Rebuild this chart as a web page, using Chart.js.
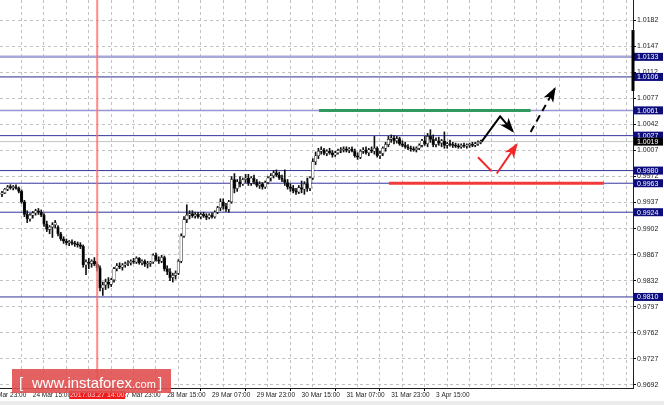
<!DOCTYPE html>
<html>
<head>
<meta charset="utf-8">
<script src="https://cdn.jsdelivr.net/npm/chart.js@4.4.1/dist/chart.umd.min.js"></script>
<style>
  html, body { margin: 0; padding: 0; background: #fff; overflow: hidden; }
  #wrap { width: 664px; height: 405px; }
</style>
</head>
<body>
<div id="wrap"><canvas id="chart" width="664" height="405"></canvas></div>
<script>
// hourly candles, index 0 = 24 Mar 04:00 (weekend skipped)
const opens = [
  0.9948,0.9950,0.9955,0.9958,0.9957,0.9958,0.9956,0.9952,0.9938,0.9921,
  0.9915,0.9920,0.9923,0.9926,0.9924,0.9920,0.9908,0.9901,0.9904,0.9907,
  0.9904,0.9895,0.9888,0.9885,0.9883,0.9884,0.9882,0.9881,0.9880,0.9878,
  0.9853,0.9857,0.9855,0.9858,0.9854,0.9849,0.9822,0.9826,0.9830,0.9827,
  0.9833,0.9848,0.9852,0.9850,0.9853,0.9855,0.9856,0.9858,0.9857,0.9862,
  0.9856,0.9858,0.9854,0.9855,0.9857,0.9866,0.9860,0.9858,0.9863,0.9848,
  0.9844,0.9836,0.9839,0.9842,0.9858,0.9892,0.9914,0.9920,0.9922,0.9919,
  0.9921,0.9918,0.9921,0.9919,0.9917,0.9920,0.9918,0.9924,0.9930,0.9938,
  0.9932,0.9928,0.9938,0.9968,0.9956,0.9965,0.9962,0.9968,0.9970,0.9963,
  0.9970,0.9965,0.9960,0.9962,0.9958,0.9964,0.9970,0.9973,0.9977,0.9974,
  0.9970,0.9968,0.9964,0.9958,0.9956,0.9953,0.9951,0.9957,0.9955,0.9962,
  0.9956,0.9970,0.9992,1.0000,1.0006,1.0008,1.0003,1.0006,1.0004,1.0001,
  1.0004,1.0007,1.0008,1.0009,1.0007,1.0009,1.0006,1.0000,0.9998,1.0006,
  1.0008,1.0004,1.0008,1.0006,1.0010,1.0000,1.0003,1.0010,1.0015,1.0022,
  1.0024,1.0020,1.0023,1.0016,1.0014,1.0012,1.0010,1.0009,1.0008,1.0010,
  1.0014,1.0020,1.0016,1.0026,1.0022,1.0015,1.0020,1.0017,1.0020,1.0014,
  1.0016,1.0015,1.0014,1.0013,1.0012,1.0014,1.0013,1.0014,1.0015,1.0014,1.0016,1.0018
];
const highs = [
  0.9952,0.9956,0.9960,0.9961,0.9960,0.9961,0.9958,0.9954,0.9940,0.9926,
  0.9922,0.9925,0.9928,0.9929,0.9927,0.9922,0.9912,0.9906,0.9910,0.9913,
  0.9906,0.9897,0.9891,0.9888,0.9886,0.9887,0.9885,0.9884,0.9883,0.9880,
  0.9860,0.9862,0.9860,0.9863,0.9857,0.9852,0.9830,0.9834,0.9836,0.9835,
  0.9850,0.9855,0.9856,0.9855,0.9857,0.9859,0.9860,0.9862,0.9864,0.9863,
  0.9860,0.9860,0.9858,0.9858,0.9868,0.9869,0.9864,0.9866,0.9865,0.9852,
  0.9848,0.9842,0.9845,0.9860,0.9895,0.9918,0.9934,0.9926,0.9926,0.9924,
  0.9924,0.9923,0.9924,0.9922,0.9922,0.9923,0.9926,0.9932,0.9942,0.9942,
  0.9936,0.9940,0.9972,0.9976,0.9968,0.9972,0.9970,0.9975,0.9975,0.9972,
  0.9974,0.9968,0.9965,0.9964,0.9966,0.9972,0.9976,0.9980,0.9981,0.9978,
  0.9974,0.9981,0.9968,0.9962,0.9960,0.9956,0.9960,0.9966,0.9965,0.9970,
  0.9972,0.9996,1.0005,1.0010,1.0012,1.0010,1.0008,1.0010,1.0007,1.0006,
  1.0009,1.0011,1.0012,1.0012,1.0011,1.0012,1.0009,1.0004,1.0008,1.0011,
  1.0012,1.0010,1.0012,1.0026,1.0012,1.0006,1.0012,1.0018,1.0026,1.0028,
  1.0027,1.0026,1.0025,1.0020,1.0018,1.0015,1.0013,1.0012,1.0012,1.0016,
  1.0022,1.0026,1.0030,1.0035,1.0028,1.0024,1.0025,1.0022,1.0032,1.0018,
  1.0021,1.0018,1.0017,1.0016,1.0016,1.0017,1.0016,1.0017,1.0018,1.0018,1.0020,1.0021
];
const lows = [
  0.9945,0.9949,0.9953,0.9955,0.9954,0.9955,0.9950,0.9936,0.9918,0.9910,
  0.9912,0.9916,0.9920,0.9921,0.9918,0.9905,0.9898,0.9895,0.9890,0.9903,
  0.9892,0.9886,0.9882,0.9880,0.9879,0.9880,0.9878,0.9877,0.9875,0.9850,
  0.9840,0.9848,0.9850,0.9852,0.9845,0.9818,0.9812,0.9820,0.9822,0.9824,
  0.9830,0.9845,0.9848,0.9846,0.9850,0.9852,0.9853,0.9855,0.9855,0.9854,
  0.9853,0.9851,0.9849,0.9851,0.9855,0.9858,0.9855,0.9856,0.9845,0.9840,
  0.9832,0.9830,0.9834,0.9840,0.9856,0.9890,0.9910,0.9915,0.9917,0.9916,
  0.9916,0.9915,0.9917,0.9914,0.9915,0.9916,0.9916,0.9922,0.9926,0.9928,
  0.9925,0.9924,0.9936,0.9950,0.9952,0.9958,0.9960,0.9964,0.9960,0.9960,
  0.9962,0.9958,0.9956,0.9955,0.9956,0.9962,0.9966,0.9970,0.9972,0.9968,
  0.9965,0.9960,0.9955,0.9952,0.9950,0.9948,0.9949,0.9950,0.9948,0.9952,
  0.9953,0.9968,0.9988,0.9996,1.0002,1.0001,1.0000,1.0002,0.9998,0.9999,
  1.0002,1.0004,1.0005,1.0005,1.0004,1.0005,0.9998,0.9995,0.9996,1.0003,
  1.0002,1.0000,1.0004,1.0002,0.9998,0.9996,1.0000,1.0006,1.0012,1.0018,
  1.0016,1.0017,1.0014,1.0012,1.0010,1.0008,1.0006,1.0006,1.0005,1.0008,
  1.0012,1.0014,1.0012,1.0018,1.0012,1.0012,1.0014,1.0012,1.0010,1.0010,
  1.0013,1.0011,1.0011,1.0010,1.0010,1.0011,1.0010,1.0011,1.0012,1.0012,1.0014,1.0016
];
const closes = [
  0.9950,0.9955,0.9958,0.9957,0.9958,0.9956,0.9952,0.9938,0.9921,0.9915,
  0.9920,0.9923,0.9926,0.9924,0.9920,0.9908,0.9901,0.9904,0.9907,0.9910,
  0.9895,0.9888,0.9885,0.9883,0.9884,0.9882,0.9881,0.9880,0.9878,0.9853,
  0.9857,0.9855,0.9858,0.9854,0.9849,0.9822,0.9826,0.9830,0.9827,0.9833,
  0.9848,0.9852,0.9850,0.9853,0.9855,0.9856,0.9858,0.9857,0.9862,0.9856,
  0.9858,0.9854,0.9855,0.9857,0.9866,0.9860,0.9858,0.9863,0.9848,0.9844,
  0.9836,0.9839,0.9842,0.9858,0.9892,0.9914,0.9920,0.9922,0.9919,0.9921,
  0.9918,0.9921,0.9919,0.9917,0.9920,0.9918,0.9924,0.9930,0.9938,0.9932,
  0.9928,0.9938,0.9968,0.9956,0.9965,0.9962,0.9968,0.9970,0.9963,0.9970,
  0.9965,0.9960,0.9962,0.9958,0.9964,0.9970,0.9973,0.9977,0.9974,0.9970,
  0.9968,0.9964,0.9958,0.9956,0.9953,0.9951,0.9957,0.9955,0.9962,0.9956,
  0.9970,0.9992,1.0000,1.0006,1.0008,1.0003,1.0006,1.0004,1.0001,1.0004,
  1.0007,1.0008,1.0009,1.0007,1.0009,1.0006,1.0000,0.9998,1.0006,1.0008,
  1.0004,1.0008,1.0006,1.0010,1.0000,1.0003,1.0010,1.0015,1.0022,1.0024,
  1.0020,1.0023,1.0016,1.0014,1.0012,1.0010,1.0009,1.0008,1.0010,1.0014,
  1.0020,1.0016,1.0026,1.0022,1.0015,1.0020,1.0017,1.0020,1.0014,1.0016,
  1.0015,1.0014,1.0013,1.0012,1.0014,1.0013,1.0014,1.0015,1.0014,1.0016,1.0018,1.0019
];

// time axis: candle index of each labelled hour
const timeTicks = [-5, 11, 27, 43, 59, 75, 91, 107, 123, 139, 155];
const timeLabels = ['23 Mar 23:00', '24 Mar 15:00', '27 Mar 07:00', '27 Mar 23:00', '28 Mar 15:00',
  '29 Mar 07:00', '29 Mar 23:00', '30 Mar 15:00', '31 Mar 07:00', '31 Mar 23:00', '3 Apr 15:00'];
const priceTicks = [1.0182, 1.0147, 1.0112, 1.0077, 1.0042, 1.0007, 0.9972, 0.9937,
  0.9902, 0.9867, 0.9832, 0.9797, 0.9762, 0.9727, 0.9692];

// horizontal levels
const levels = [1.0133, 1.0106, 1.0061, 1.0027, 0.9980, 0.9963, 0.9924, 0.9810];
const bidPrice = 1.0019;
const cursorIndex = 34;
const cursorLabel = '2017.03.27 14:00';

// drawn objects (index, price)
const greenSegment = [[113.2, 1.0061], [188.8, 1.0061]];
const redSegment = [[138.2, 0.9963], [215, 0.9963]];
const blackArrow = [[171.3, 1.0019], [177.9, 1.0053], [182.4, 1.0033]];
const blackDashArrow = [[188.8, 1.0032], [197.4, 1.0090]];
const redDown = [[170, 0.9998], [174.9, 0.9979]];
const redUpArrow = [[176.7, 0.9976], [183.8, 1.0015]];

const xMin = -0.714, xMax = 225.36;
const levelStyle = {
  1.0133: ['#a8a8d6', 2.5], 1.0106: ['#2c2c8e', 1], 1.0061: ['#9696d2', 1.5], 1.0027: ['#34349c', 1],
  0.998: ['#34349c', 1], 0.9963: ['#34349c', 1], 0.9924: ['#34349c', 1], 0.981: ['#34349c', 1]
};

const pts = arr => arr.map(p => ({ x: p[0], y: p[1] }));
const font = { family: 'Liberation Sans, Arial, sans-serif', size: 7 };

const datasets = [];
levels.forEach(v => {
  const st = levelStyle[v];
  datasets.push({ type: 'line', data: [{ x: xMin, y: v }, { x: xMax, y: v }], borderColor: st[0], borderWidth: st[1], pointRadius: 0, order: 10 });
});
datasets.push({ type: 'line', data: [{ x: xMin, y: bidPrice }, { x: xMax, y: bidPrice }], borderColor: '#c4c4c4', borderWidth: 1, pointRadius: 0, order: 9 });

datasets.push({
  type: 'bar', order: 6, grouped: false, barThickness: 1,
  data: opens.map((o, i) => ({ x: i, y: [lows[i], highs[i]] })),
  backgroundColor: '#111'
});
datasets.push({
  type: 'bar', order: 5, grouped: false, barThickness: 2.6, minBarLength: 1,
  data: opens.map((o, i) => ({ x: i, y: [o, closes[i]] })),
  backgroundColor: opens.map((o, i) => closes[i] >= o ? '#ffffff' : '#000000'),
  borderColor: '#222', borderWidth: 0.6, borderSkipped: false
});

datasets.push({ type: 'line', data: pts(greenSegment), borderColor: '#2e9a5e', borderWidth: 3, pointRadius: 0, order: 3 });
datasets.push({ type: 'line', data: pts(redSegment), borderColor: '#f23a3a', borderWidth: 3, pointRadius: 0, order: 3 });
datasets.push({ type: 'line', data: pts(blackArrow), borderColor: '#000', borderWidth: 2, pointRadius: 0, order: 1, arrow: true });
datasets.push({ type: 'line', data: pts(blackDashArrow), borderColor: '#000', borderWidth: 2, borderDash: [7, 5], pointRadius: 0, order: 1, arrow: true });
datasets.push({ type: 'line', data: pts(redDown), borderColor: '#f22828', borderWidth: 2, pointRadius: 0, order: 1 });
datasets.push({ type: 'line', data: pts(redUpArrow), borderColor: '#f22828', borderWidth: 2, pointRadius: 0, order: 1, arrow: true });

const backdrop = {
  id: 'backdrop',
  beforeDraw(chart) {
    const ctx = chart.ctx;
    ctx.save();
    ctx.fillStyle = '#fff';
    ctx.fillRect(0, 0, chart.width, chart.height);
    ctx.fillStyle = '#ececec';
    ctx.fillRect(0, chart.height - 4, chart.width, 4);
    ctx.restore();
  }
};

const arrowHeads = {
  id: 'arrowHeads',
  afterDatasetsDraw(chart) {
    const ctx = chart.ctx;
    chart.data.datasets.forEach((ds, i) => {
      if (!ds.arrow) return;
      const el = chart.getDatasetMeta(i).data;
      const a = el[el.length - 2], b = el[el.length - 1];
      const ang = Math.atan2(b.y - a.y, b.x - a.x);
      const len = 13, half = 5.5;
      ctx.save();
      ctx.fillStyle = ds.borderColor;
      ctx.translate(b.x, b.y);
      ctx.rotate(ang);
      ctx.beginPath();
      ctx.moveTo(2, 0);
      ctx.lineTo(-len, -half);
      ctx.lineTo(-len + 4, 0);
      ctx.lineTo(-len, half);
      ctx.closePath();
      ctx.fill();
      ctx.restore();
    });
  }
};

const overlay = {
  id: 'overlay',
  afterDraw(chart) {
    const ctx = chart.ctx;
    const xs = chart.scales.x, ys = chart.scales.y;
    const area = chart.chartArea;

    // crosshair
    const cx = xs.getPixelForValue(cursorIndex);
    ctx.save();
    ctx.strokeStyle = 'rgba(255,110,110,0.8)';
    ctx.lineWidth = 2;
    ctx.beginPath();
    ctx.moveTo(cx, area.top);
    ctx.lineTo(cx, area.bottom);
    ctx.stroke();
    ctx.fillStyle = '#f01c1c';
    ctx.fillRect(cx - 28, area.bottom + 3, 56, 8);
    ctx.fillStyle = '#ffd8d8';
    ctx.font = '7px Liberation Sans, Arial, sans-serif';
    ctx.textAlign = 'center';
    ctx.textBaseline = 'middle';
    ctx.fillText(cursorLabel, cx, area.bottom + 7.5);

    // price boxes on the axis
    const box = (v, col) => {
      const py = ys.getPixelForValue(v);
      ctx.fillStyle = col;
      ctx.fillRect(area.right + 1, py - 4, 29, 8);
      ctx.fillStyle = '#fff';
      ctx.textAlign = 'left';
      ctx.fillText(v.toFixed(4), area.right + 4, py + 0.5);
    };
    levels.forEach(v => box(v, '#0c0c7c'));
    box(bidPrice, '#000');

    // shift marker
    ctx.fillStyle = '#000';
    ctx.fillRect(area.right - 1.5, 30, 3, 61);

    // watermark
    ctx.fillStyle = 'rgba(224,80,80,0.9)';
    ctx.fillRect(12, 369, 159, 24);
    ctx.fillStyle = '#fff';
    ctx.textBaseline = 'alphabetic';
    ctx.textAlign = 'left';
    ctx.font = '15px Liberation Sans, Arial, sans-serif';
    ctx.fillText('[', 19, 388);
    const w = ctx.measureText('www.instaforex').width;
    ctx.save();
    ctx.translate(32, 388);
    ctx.scale(100 / w, 1);
    ctx.fillText('www.instaforex', 0, 0);
    ctx.restore();
    ctx.font = '11px Liberation Sans, Arial, sans-serif';
    ctx.fillText('.com', 132, 388);
    ctx.font = '15px Liberation Sans, Arial, sans-serif';
    ctx.fillText(']', 158, 388);
    ctx.restore();
  }
};

new Chart(document.getElementById('chart'), {
  type: 'line',
  data: { datasets },
  options: {
    responsive: false,
    animation: false,
    events: [],
    layout: { padding: 0 },
    plugins: { legend: { display: false }, tooltip: { enabled: false } },
    scales: {
      x: {
        type: 'linear', min: xMin, max: xMax, offset: false,
        afterBuildTicks: s => {
          const t = [];
          for (let v = -5; v <= 219; v += 8) t.push({ value: v });
          s.ticks = t;
        },
        afterFit: s => { s.height = 17; s.paddingLeft = 0; s.paddingRight = 0; },
        grid: {
          color: '#c2c2c2', lineWidth: 1, tickLength: 3,
          tickColor: c => timeTicks.includes(c.tick && c.tick.value) ? '#000' : 'rgba(0,0,0,0)'
        },
        border: { display: true, color: '#202020', width: 1, dash: [3, 3] },
        ticks: {
          autoSkip: false, maxRotation: 0, minRotation: 0, align: 'start', padding: 0,
          color: '#222', font: { family: font.family, size: 6.5 },
          callback: v => { const k = timeTicks.indexOf(v); return k >= 0 ? timeLabels[k] : ''; }
        }
      },
      y: {
        type: 'linear', position: 'right', min: 0.96875, max: 1.02095,
        afterBuildTicks: s => { s.ticks = priceTicks.map(v => ({ value: v })); },
        afterFit: s => { s.width = 31; s.paddingTop = 0; s.paddingBottom = 0; },
        grid: { color: '#c2c2c2', lineWidth: 1, tickLength: 3, tickColor: '#000' },
        border: { display: true, color: '#202020', width: 1, dash: [3, 3] },
        ticks: {
          autoSkip: false, padding: 1, color: '#222', font: font,
          callback: v => v.toFixed(4)
        }
      }
    }
  },
  plugins: [backdrop, arrowHeads, overlay]
});
</script>
</body>
</html>
